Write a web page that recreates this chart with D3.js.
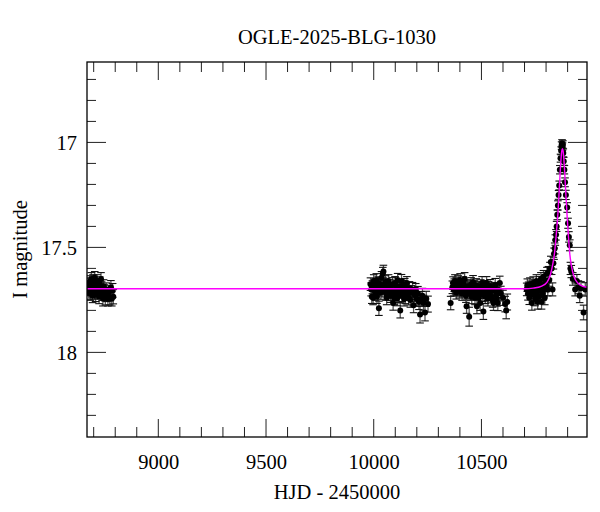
<!DOCTYPE html>
<html>
<head>
<meta charset="utf-8">
<script src="https://cdn.jsdelivr.net/npm/d3@7/dist/d3.min.js"></script>
<style>
  html, body { margin: 0; padding: 0; background: #fff; }
  svg { display: block; }
  text { font-family: "Liberation Serif", "Times New Roman", serif; fill: #000; }
</style>
</head>
<body>
<svg id="chart" width="600" height="512"></svg>
<script>
// ---- data ----
const title = "OGLE-2025-BLG-1030";
const xLabel = "HJD - 2450000";
const yLabel = "I magnitude";
const xMajorTicks = [9000, 9500, 10000, 10500];
const xMinorTicks = [8700,8800,8900,9100,9200,9300,9400,9600,9700,9800,9900,10100,10200,10300,10400,10600,10700,10800,10900];
const yMajorTicks = [17, 17.5, 18];
const yMinorTicks = [16.7,16.8,16.9,17.1,17.2,17.3,17.4,17.6,17.7,17.8,17.9,18.1,18.2,18.3];

// observations: HJD-2450000, I mag, error
const hjd = [
  8675,8677,8679,8681,8683,8685,8687,8689,8691,8693,8695,8697,8699,8701,8703,8705,8707,8709,8711,8713,
  8716,8719,8722,8725,8728,8731,8734,8737,8740,8743,8746,8750,8754,8758,8762,8766,8770,8775,8780,8784,8788,8791,
  9985,9988,9991,9994,9997,10000,10003,10006,10009,10012,10015,10018,10021,10024,10027,10030,10033,10036,10039,10042,
  10045,10048,10051,10054,10057,10060,10063,10066,10069,10072,10075,10078,10081,10084,10087,10090,10093,10096,10099,10102,
  10105,10108,10111,10114,10117,10120,10123,10126,10129,10132,10135,10138,10141,10144,10147,10150,10154,10158,10162,10166,
  10170,10175,10180,10185,10190,10195,10200,10205,10210,10215,10220,10226,10231,10238,10244,10252,
  10357,10365,10368,10371,10374,10377,10380,10383,10386,10389,10392,10395,10398,10401,10404,10407,10410,10413,10416,10419,
  10422,10425,10428,10431,10434,10437,10440,10443,10446,10449,10452,10455,10458,10461,10464,10467,10470,10473,10476,10479,
  10482,10485,10488,10491,10494,10497,10500,10503,10506,10509,10512,10515,10518,10521,10524,10527,10530,10533,10536,10540,
  10544,10548,10552,10556,10560,10564,10568,10572,10576,10580,10585,10590,10600,10610,10615,10620,
  10710,10713,10716,10719,10722,10725,10728,10731,10734,10737,10740,10743,10746,10749,10752,10755,10758,10761,10764,10767,
  10770,10773,10776,10779,10782,10785,10788,10791,10794,10797,10800,10804,10808,10811,10815,10818,10822,10826,10830,10834,
  10837,10840,10843,10846,10849,10852,10855,10858,10861,10864,10867,10870,10872,10874,10876,10878,10880,10882,10885,10888,
  10892,10898,10902,10906,10910,10913,10917,10924,10935,10943,10950,10956,10962,10974,10982
];
const imag = [
  17.700,17.680,17.715,17.665,17.695,17.720,17.675,17.650,17.705,17.690,17.730,17.660,17.700,17.675,17.715,17.645,17.690,17.725,17.680,17.700,
  17.660,17.710,17.690,17.735,17.670,17.705,17.650,17.695,17.720,17.745,17.685,17.710,17.740,17.700,17.725,17.745,17.715,17.740,17.690,17.745,17.705,17.735,
  17.675,17.700,17.735,17.690,17.740,17.660,17.705,17.680,17.720,17.655,17.735,17.695,17.670,17.790,17.700,17.675,17.715,17.645,17.690,17.625,
  17.615,17.680,17.705,17.665,17.720,17.740,17.690,17.700,17.660,17.710,17.685,17.730,17.700,17.720,17.675,17.765,17.705,17.740,17.670,17.715,
  17.690,17.745,17.655,17.700,17.730,17.685,17.800,17.710,17.660,17.725,17.690,17.705,17.745,17.680,17.735,17.700,17.670,17.720,17.740,17.695,
  17.750,17.715,17.700,17.775,17.725,17.705,17.745,17.720,17.760,17.820,17.745,17.730,17.765,17.810,17.745,17.770,
  17.765,17.690,17.670,17.700,17.680,17.660,17.695,17.715,17.675,17.700,17.665,17.690,17.710,17.655,17.700,17.680,17.720,17.690,17.670,17.705,
  17.650,17.695,17.730,17.780,17.685,17.710,17.700,17.830,17.690,17.720,17.675,17.735,17.700,17.665,17.715,17.690,17.740,17.705,17.680,17.780,
  17.720,17.695,17.740,17.710,17.765,17.685,17.700,17.670,17.725,17.805,17.710,17.690,17.735,17.700,17.670,17.720,17.745,17.695,17.710,17.685,
  17.730,17.705,17.750,17.765,17.700,17.680,17.725,17.745,17.765,17.705,17.670,17.720,17.740,17.770,17.800,17.760,
  17.700,17.680,17.720,17.695,17.740,17.675,17.710,17.690,17.765,17.700,17.670,17.725,17.685,17.745,17.700,17.660,17.715,17.760,17.690,17.735,
  17.670,17.705,17.650,17.760,17.680,17.720,17.640,17.700,17.740,17.660,17.680,17.625,17.700,17.620,17.655,17.600,17.570,17.600,17.700,17.575,
  17.530,17.505,17.465,17.440,17.400,17.345,17.300,17.250,17.205,17.130,17.075,17.040,17.015,17.005,17.020,17.010,17.050,17.090,17.130,17.190,
  17.250,17.310,17.385,17.450,17.490,17.600,17.615,17.650,17.700,17.660,17.690,17.730,17.695,17.810,17.700
];
const ierr = [
  0.030,0.030,0.032,0.030,0.031,0.032,0.030,0.030,0.031,0.030,0.033,0.030,0.031,0.030,0.032,0.030,0.030,0.033,0.030,0.031,
  0.030,0.032,0.031,0.033,0.030,0.031,0.030,0.031,0.032,0.034,0.031,0.032,0.034,0.031,0.033,0.034,0.032,0.034,0.032,0.034,0.033,0.034,
  0.030,0.031,0.032,0.031,0.033,0.030,0.031,0.030,0.032,0.030,0.032,0.031,0.030,0.034,0.031,0.030,0.032,0.030,0.031,0.030,
  0.030,0.031,0.031,0.030,0.032,0.033,0.031,0.031,0.030,0.032,0.031,0.032,0.031,0.032,0.031,0.034,0.032,0.033,0.031,0.032,
  0.031,0.033,0.031,0.032,0.033,0.031,0.036,0.032,0.031,0.033,0.032,0.032,0.034,0.032,0.033,0.032,0.031,0.033,0.034,0.032,
  0.035,0.033,0.033,0.036,0.034,0.033,0.035,0.034,0.036,0.040,0.035,0.035,0.037,0.040,0.036,0.038,
  0.032,0.030,0.030,0.031,0.030,0.030,0.031,0.031,0.030,0.031,0.030,0.031,0.031,0.030,0.031,0.030,0.032,0.031,0.030,0.031,
  0.030,0.031,0.032,0.034,0.031,0.032,0.031,0.045,0.031,0.032,0.031,0.033,0.032,0.031,0.032,0.031,0.033,0.032,0.031,0.036,
  0.032,0.032,0.033,0.032,0.035,0.031,0.032,0.031,0.033,0.038,0.032,0.032,0.033,0.032,0.031,0.033,0.034,0.032,0.033,0.032,
  0.034,0.033,0.035,0.035,0.033,0.032,0.034,0.035,0.036,0.034,0.033,0.035,0.036,0.037,0.040,0.038,
  0.030,0.030,0.031,0.030,0.032,0.030,0.031,0.030,0.034,0.031,0.030,0.032,0.031,0.033,0.031,0.030,0.032,0.034,0.031,0.033,
  0.031,0.032,0.030,0.034,0.031,0.032,0.030,0.031,0.033,0.030,0.031,0.030,0.031,0.029,0.030,0.029,0.028,0.029,0.031,0.028,
  0.027,0.026,0.025,0.025,0.024,0.023,0.022,0.021,0.021,0.020,0.019,0.019,0.018,0.018,0.018,0.018,0.019,0.019,0.020,0.021,
  0.022,0.023,0.024,0.025,0.026,0.029,0.029,0.030,0.031,0.031,0.031,0.033,0.032,0.035,0.032
];

// model curve
const modelHjd = [8669,10700,10740,10780,10805,10820,10832,10840,10848,10855,10862,10868,10873,10876,10879,10884,10890,10897,10904,10910,10918,10930,10950,10970,10990];
const modelMag = [17.697,17.697,17.694,17.684,17.665,17.630,17.575,17.520,17.430,17.340,17.210,17.100,17.040,17.030,17.040,17.100,17.210,17.340,17.450,17.530,17.590,17.640,17.672,17.685,17.690];

// ---- layout ----
const svg = d3.select("#chart");
const m = {left: 87, top: 62, right: 13, bottom: 75};
const W = 600 - m.left - m.right, H = 512 - m.top - m.bottom;
const x = d3.scaleLinear().domain([8669, 10990]).range([0, W]);
const y = d3.scaleLinear().domain([16.617, 18.403]).range([0, H]);
const g = svg.append("g").attr("transform", `translate(${m.left},${m.top})`);

svg.append("defs").append("clipPath").attr("id", "clip")
  .append("rect").attr("width", W).attr("height", H);

// inward ticks on all four sides
const tk = g.append("g").attr("stroke", "#222").attr("stroke-width", 1);
function xTicks(vals, len) {
  tk.append("g").selectAll("line").data(vals).join("line")
    .attr("x1", d => x(d)).attr("x2", d => x(d)).attr("y1", H).attr("y2", H - len);
  tk.append("g").selectAll("line").data(vals).join("line")
    .attr("x1", d => x(d)).attr("x2", d => x(d)).attr("y1", 0).attr("y2", len);
}
function yTicks(vals, len) {
  tk.append("g").selectAll("line").data(vals).join("line")
    .attr("y1", d => y(d)).attr("y2", d => y(d)).attr("x1", 0).attr("x2", len);
  tk.append("g").selectAll("line").data(vals).join("line")
    .attr("y1", d => y(d)).attr("y2", d => y(d)).attr("x1", W).attr("x2", W - len);
}
xTicks(xMajorTicks, 18);
xTicks(xMinorTicks, 10);
yTicks(yMajorTicks, 19);
yTicks(yMinorTicks, 9);

// tick labels via d3 axes
const xl = g.append("g").attr("transform", `translate(0,${H})`)
  .call(d3.axisBottom(x).tickValues(xMajorTicks).tickSize(0).tickPadding(0).tickFormat(d3.format("d")));
xl.select(".domain").remove();
xl.selectAll("text").attr("y", 32).attr("dy", null).style("font-size", "20.5px").style("font-family", "Liberation Serif");

const yl = g.append("g")
  .call(d3.axisLeft(y).tickValues(yMajorTicks).tickSize(0).tickPadding(0).tickFormat(d => String(d)));
yl.select(".domain").remove();
yl.selectAll("text").attr("x", -10).attr("dy", "0.33em").style("font-size", "20.5px").style("font-family", "Liberation Serif");

// data layer
const data = hjd.map((t, i) => ({t, m: imag[i], e: ierr[i]}));
const pl = g.append("g").attr("clip-path", "url(#clip)");

// error bars
const eb = pl.append("g");
eb.selectAll("line.v").data(data).join("line").attr("class", "v")
  .attr("x1", d => x(d.t)).attr("x2", d => x(d.t))
  .attr("y1", d => y(d.m - d.e)).attr("y2", d => y(d.m + d.e))
  .attr("stroke", "#555").attr("stroke-width", 1.3);
eb.selectAll("line.c1").data(data).join("line").attr("class", "c1")
  .attr("x1", d => x(d.t) - 3.8).attr("x2", d => x(d.t) + 3.8)
  .attr("y1", d => y(d.m - d.e)).attr("y2", d => y(d.m - d.e))
  .attr("stroke", "#111").attr("stroke-width", 1.1);
eb.selectAll("line.c2").data(data).join("line").attr("class", "c2")
  .attr("x1", d => x(d.t) - 3.8).attr("x2", d => x(d.t) + 3.8)
  .attr("y1", d => y(d.m + d.e)).attr("y2", d => y(d.m + d.e))
  .attr("stroke", "#111").attr("stroke-width", 1.1);

pl.append("g").selectAll("circle").data(data).join("circle")
  .attr("cx", d => x(d.t)).attr("cy", d => y(d.m)).attr("r", 3).attr("fill", "#000");

// model
pl.append("path")
  .datum(modelHjd.map((t, i) => [t, modelMag[i]]))
  .attr("fill", "none").attr("stroke", "#ff00ff").attr("stroke-width", 1.4)
  .attr("d", d3.line().x(d => x(d[0])).y(d => y(d[1])).curve(d3.curveMonotoneX));

// frame
g.append("rect").attr("width", W).attr("height", H)
  .attr("fill", "none").attr("stroke", "#000").attr("stroke-width", 1.3);

// titles
svg.append("text").attr("x", m.left + W / 2).attr("y", 44).attr("text-anchor", "middle")
  .style("font-size", "20.5px").text(title);
svg.append("text").attr("x", m.left + W / 2).attr("y", 499).attr("text-anchor", "middle")
  .style("font-size", "20.5px").text(xLabel);
svg.append("text").attr("transform", `translate(27,${m.top + H / 2}) rotate(-90)`).attr("text-anchor", "middle")
  .style("font-size", "20.5px").text(yLabel);
</script>
</body>
</html>
